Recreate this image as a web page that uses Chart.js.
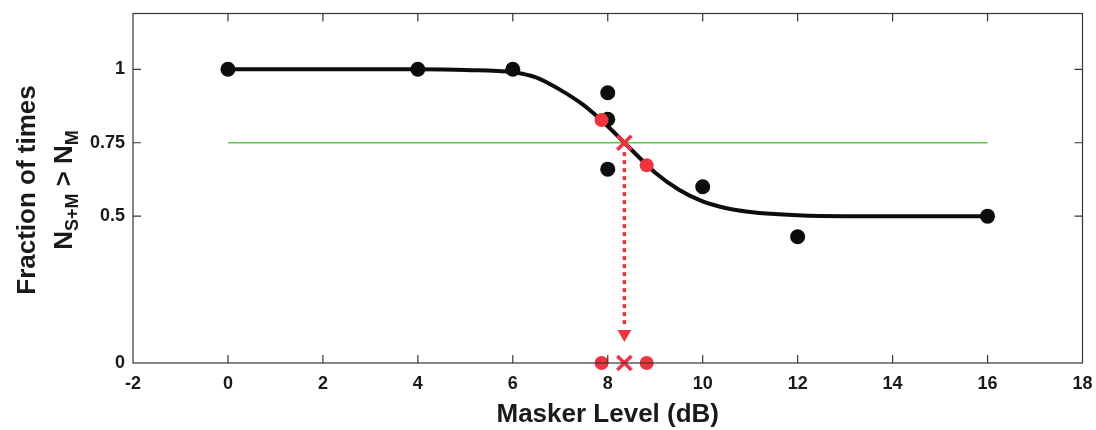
<!DOCTYPE html>
<html>
<head>
<meta charset="utf-8">
<script src="https://cdn.jsdelivr.net/npm/chart.js@4.4.0/dist/chart.umd.min.js"></script>
<style>
  html, body { margin: 0; padding: 0; background: #fff; }
  #wrap { width: 1096px; height: 430px; }
</style>
</head>
<body>
<div id="wrap"><canvas id="chart"></canvas></div>
<script>
// values
const xTickValues = [-2, 0, 2, 4, 6, 8, 10, 12, 14, 16, 18];
const yTickValues = [0, 0.5, 0.75, 1];

const obsLevel = [0, 4, 6, 8, 8, 8, 10, 12, 16];
const obsFraction = [1, 1, 1, 0.92, 0.83, 0.66, 0.6, 0.43, 0.5];

const fitLevel = [0, 2, 4, 5, 6, 6.5, 7, 7.5, 8, 8.35, 8.75, 9, 9.5, 10, 10.5, 11, 12, 13, 14, 16];
const fitFraction = [1, 1, 1, 0.998, 0.99, 0.972, 0.93, 0.877, 0.806, 0.75, 0.686, 0.648, 0.59, 0.55, 0.527, 0.514, 0.503, 0.5, 0.5, 0.5];

const bracketLevel = [7.87, 8.82];
const bracketFraction = [0.827, 0.673];
const thresholdLevel = 8.35;
const criterion = 0.75;
const criterionRange = [0, 16];
const arrowFraction = [0.718, 0.126, 0.099];

const red = '#ef3340';
const ink = '#1a1a1a';
const frameColor = '#3b3232';

const pts = (xs, ys) => xs.map((x, i) => ({ x: x, y: ys[i] }));

const noPad = s => { s.paddingTop = 0; s.paddingBottom = 0; s.paddingLeft = 0; s.paddingRight = 0; };

// frame + inward ticks + two-line y title with subscripts
const decor = {
  id: 'decor',
  afterDraw(chart) {
    const { ctx, chartArea: a, scales } = chart;
    ctx.save();
    ctx.strokeStyle = frameColor;
    ctx.lineWidth = 1.2;
    ctx.strokeRect(a.left, a.top, a.right - a.left, a.bottom - a.top);
    ctx.beginPath();
    xTickValues.slice(1, -1).forEach(v => {
      const px = scales.x.getPixelForValue(v);
      ctx.moveTo(px, a.bottom); ctx.lineTo(px, a.bottom - 8);
      ctx.moveTo(px, a.top); ctx.lineTo(px, a.top + 8);
    });
    yTickValues.slice(1).forEach(v => {
      const py = scales.y.getPixelForValue(v);
      ctx.moveTo(a.left, py); ctx.lineTo(a.left + 8, py);
      ctx.moveTo(a.right, py); ctx.lineTo(a.right - 8, py);
    });
    ctx.stroke();

    ctx.fillStyle = ink;
    ctx.textBaseline = 'alphabetic';
    ctx.translate(35, 190);
    ctx.rotate(-Math.PI / 2);
    ctx.font = 'bold 26px "Liberation Sans", Arial, sans-serif';
    ctx.textAlign = 'center';
    ctx.fillText('Fraction of times', 0, 0);

    const big = 'bold 26px "Liberation Sans", Arial, sans-serif';
    const small = 'bold 18px "Liberation Sans", Arial, sans-serif';
    const parts = [['N', big, 0], ['S+M', small, 6], [' > N', big, 0], ['M', small, 6]];
    ctx.textAlign = 'left';
    let total = 0;
    parts.forEach(p => { ctx.font = p[1]; total += ctx.measureText(p[0]).width; });
    let pos = -total / 2;
    parts.forEach(p => {
      ctx.font = p[1];
      ctx.fillText(p[0], pos, 37 + p[2]);
      pos += ctx.measureText(p[0]).width;
    });
    ctx.restore();
  }
};

new Chart(document.getElementById('chart'), {
  type: 'scatter',
  data: {
    datasets: [
      {
        // threshold on axis
        data: [{ x: thresholdLevel, y: 0 }],
        pointStyle: 'crossRot', pointRadius: 10, borderWidth: 3.5,
        borderColor: red, backgroundColor: red, clip: false
      },
      {
        data: bracketLevel.map(x => ({ x: x, y: 0 })),
        pointRadius: 7, pointBorderWidth: 0, backgroundColor: red, clip: false
      },
      {
        // threshold on fit
        data: [{ x: thresholdLevel, y: criterion }],
        pointStyle: 'crossRot', pointRadius: 10, borderWidth: 3.5,
        borderColor: red, backgroundColor: red
      },
      {
        data: pts(bracketLevel, bracketFraction),
        pointRadius: 7, pointBorderWidth: 0, backgroundColor: red
      },
      {
        data: pts(obsLevel, obsFraction),
        pointRadius: 7.5, pointBorderWidth: 0, backgroundColor: '#0d0d0d'
      },
      {
        // arrow head
        data: [{ x: thresholdLevel, y: arrowFraction[2] }],
        pointStyle: 'triangle', rotation: 180, pointRadius: 8,
        pointBorderWidth: 0, backgroundColor: red
      },
      {
        data: [{ x: thresholdLevel, y: arrowFraction[0] }, { x: thresholdLevel, y: arrowFraction[1] }],
        showLine: true, borderColor: red, borderWidth: 3.5, borderDash: [4, 4], pointRadius: 0
      },
      {
        data: pts(fitLevel, fitFraction),
        showLine: true, borderColor: '#0d0d0d', borderWidth: 4,
        cubicInterpolationMode: 'monotone', pointRadius: 0
      },
      {
        data: criterionRange.map(x => ({ x: x, y: criterion })),
        showLine: true, borderColor: '#5cc94a', borderWidth: 1.5, pointRadius: 0
      }
    ]
  },
  options: {
    responsive: true,
    maintainAspectRatio: false,
    animation: false,
    layout: { padding: { left: 0, right: 13, top: 10, bottom: 0 } },
    plugins: { legend: { display: false }, tooltip: { enabled: false } },
    scales: {
      x: {
        type: 'linear', min: -2, max: 18,
        afterBuildTicks: s => { s.ticks = xTickValues.map(v => ({ value: v })); },
        afterFit: s => { s.height = 67; noPad(s); },
        afterUpdate: noPad,
        grid: { drawOnChartArea: false, drawTicks: false },
        border: { display: false },
        ticks: {
          padding: 10, color: ink, maxRotation: 0,
          font: { family: '"Liberation Sans", Arial, sans-serif', size: 18, weight: 'bold' },
          callback: v => String(v)
        },
        title: {
          display: true, text: 'Masker Level (dB)', color: ink, padding: { top: 4, bottom: 0 },
          font: { family: '"Liberation Sans", Arial, sans-serif', size: 26, weight: 'bold' }
        }
      },
      y: {
        type: 'linear', min: 0, max: 1.19,
        afterBuildTicks: s => { s.ticks = yTickValues.map(v => ({ value: v })); },
        afterFit: s => { s.width = 133; noPad(s); },
        afterUpdate: noPad,
        grid: { drawOnChartArea: false, drawTicks: false },
        border: { display: false },
        ticks: {
          padding: 8, color: ink,
          font: { family: '"Liberation Sans", Arial, sans-serif', size: 18, weight: 'bold', lineHeight: 1 },
          callback: v => String(v)
        }
      }
    }
  },
  plugins: [decor]
});
</script>
</body>
</html>
